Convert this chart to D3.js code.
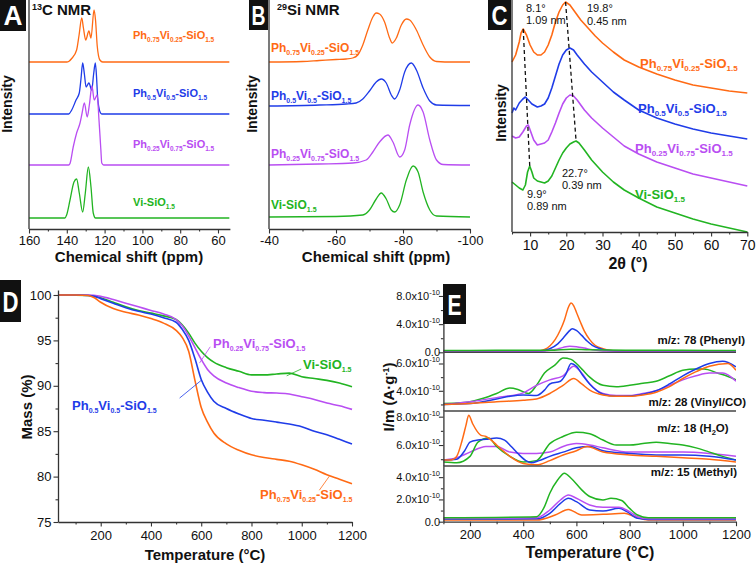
<!DOCTYPE html>
<html><head><meta charset="utf-8">
<script src="https://cdn.jsdelivr.net/npm/d3@7"></script>
<style>
body{margin:0;background:#fff;}
svg{display:block;font-family:"Liberation Sans",Arial,sans-serif;}
</style></head><body>
<svg id="chart" width="756" height="565"></svg>
<script>
// ---------------- DATA ----------------
const sampleNames = [
  ["Ph","0.75","Vi","0.25","-SiO","1.5"],
  ["Ph","0.5","Vi","0.5","-SiO","1.5"],
  ["Ph","0.25","Vi","0.75","-SiO","1.5"],
  ["Vi-SiO","1.5"]
];
// Panel A: 13C NMR  [ppm, intensity a.u. incl. stack offset]
const cnmrPh75 = [[160,167],[140,167],[139,167.5],[137.4,170.5],[134.8,179],[133.5,194],[132.1,211],[131.2,201],[130,189],[128.3,198],[127.2,191],[125.6,219],[124.8,209],[123.9,183],[122.5,169],[121,167],[54,167]];
const cnmrPh50 = [[160,115],[139,115],[137.4,119],[135.1,129],[133.4,136],[132.5,150],[131.6,166],[130.7,155],[129.8,142],[128.3,146],[126.8,139],[125.8,155],[124.9,166],[124.2,150],[123.7,132],[122.4,117],[121.5,115],[54,115]];
const cnmrPh25 = [[160,64],[139,64],[138.3,65.5],[136.6,82],[134.8,96],[133.0,106],[132,115],[130.7,126],[129.2,112],[128,125],[126.7,143],[125.5,129],[123.9,134],[123,110],[122,80],[121.5,66],[120.5,64],[54,64]];
const cnmrVi = [[160,11],[141,11],[140.1,14],[138.3,29],[136.2,47],[134.8,50],[133.4,36],[131.6,17],[130.2,36],[128.6,62],[127.2,42],[126.0,16],[124.8,11],[54,11]];
const ppmTicksA = [160,140,120,100,80,60];
const ppmMinorA = [150,130,110,90,70];
// Panel B: 29Si NMR
const sinmrPh75 = [[-40,167],[-50,167.5],[-55,168.5],[-60,169.5],[-63,170],[-65,171],[-66.5,174],[-68,184],[-69.5,199],[-71,212],[-72,216],[-73,215],[-74.5,207],[-76,191],[-76.8,186],[-78,191],[-79.5,204],[-81,210],[-82,209],[-84,199],[-86,184],[-88,172],[-90,167.5],[-95,167],[-100,167]];
const sinmrPh50 = [[-40,123],[-55,124],[-63,125],[-66,126],[-68,130],[-70,138],[-72,147],[-73.5,150],[-75,146],[-76.5,134],[-77.5,130],[-79,139],[-80.5,157],[-82.5,166],[-84,159],[-86,141],[-88,128],[-90,124],[-100,123.5]];
const sinmrPh25 = [[-40,64],[-55,65],[-65,66],[-69,69],[-71,77],[-73,87],[-75.5,94],[-77,87],[-79,72],[-80.5,79],[-82,104],[-84.5,124],[-86,117],[-88,89],[-90,69],[-92,64.5],[-100,64]];
const sinmrVi = [[-40,12],[-60,12.5],[-68,14],[-70,19],[-72,30],[-73.5,36],[-75,30],[-76.5,19],[-77.5,17],[-79,24],[-81,49],[-83,63],[-84.5,57],[-86,37],[-88,19],[-90,13],[-100,12]];
const ppmTicksB = [-40,-60,-80,-100];
const ppmMinorB = [-50,-70,-90];
// Panel C: XRD [2theta, intensity a.u.]
const xrdPh75 = [[5,170],[6,177],[7,190],[7.5,199],[8.1,203],[9,197],[10,187],[11,180],[12,177],[13,177],[14,180],[15,187],[16,197],[17,210],[18,220],[19,227],[19.8,230],[21,227],[22,222],[24,212],[26,204],[28,196],[30,189],[33,180],[36,172],[40,165],[45,158],[50,152],[55,147],[60,144],[65,141],[70,139]];
const xrdPh50 = [[5,119],[5.5,124],[6,122],[7,129],[8,133],[8.7,135],[9.5,132],[10.5,128],[12,125],[13,126],[14,128],[15,134],[16,144],[17,156],[18,168],[19,177],[20,182],[21,184],[22,182],[23,177],[25,168],[27,160],[30,150],[33,140],[36,132],[40,122],[45,114],[50,108],[55,103],[60,99],[65,96],[70,93]];
const xrdPh25 = [[5,96],[6,94],[7,95],[8,100],[9,106],[9.5,107],[10,102],[11,92],[12,87],[13,88],[14,89],[15,92],[16,100],[17,109],[18,119],[19,128],[20,134],[21,137],[22,136],[23,132],[25,122],[27,114],[30,104],[33,95],[36,86],[40,78],[45,70],[50,64],[55,58],[60,54],[65,50],[70,46]];
const xrdVi = [[5,50],[6,47],[7,44],[8,42],[8.7,47],[9.3,60],[9.9,66],[10.5,60],[11,54],[12,51],[13,50],[14,49],[15,51],[16,56],[17,64],[18,72],[19,79],[20,84],[21,88],[22,90],[22.7,91],[23.5,89],[25,82],[27,72],[30,60],[33,50],[36,42],[40,34],[45,25],[50,19],[55,13],[60,8],[65,4],[70,0]];
const xrdGuide1 = [[8.1,203],[9.9,66]];
const xrdGuide2 = [[19.8,230],[22.7,91]];
const xrdNotes = [["8.1°","1.09 nm"],["19.8°","0.45 nm"],["22.7°","0.39 nm"],["9.9°","0.89 nm"]];
const twoThetaTicks = [10,20,30,40,50,60,70];
const twoThetaMinor = [5,15,25,35,45,55,65];
// Panel D: TGA [T °C, mass %]
const tgaPh75 = [[30,100],[100,100],[150,99.95],[175,99.7],[200,99.2],[250,98.5],[300,98.1],[350,97.8],[400,97.4],[450,96.9],[500,96.1],[525,95.3],[550,93.8],[575,90.6],[600,87.6],[625,86.0],[650,84.8],[700,83.6],[750,82.9],[800,82.4],[850,82.1],[900,81.9],[950,81.7],[1000,81.3],[1050,80.8],[1100,80.2],[1150,79.7],[1200,79.2]];
const tgaPh50 = [[30,100],[100,100],[150,99.95],[175,99.85],[200,99.6],[250,99.1],[300,98.6],[350,98.2],[400,97.9],[450,97.5],[500,97.0],[525,96.2],[550,95.0],[575,93.0],[600,90.7],[625,89.3],[650,88.3],[700,87.5],[750,86.9],[800,86.4],[850,86.2],[900,86.0],[950,85.8],[1000,85.5],[1050,85.0],[1100,84.6],[1150,84.1],[1200,83.6]];
const tgaPh25 = [[30,100],[150,100],[200,99.85],[250,99.5],[300,99.1],[350,98.7],[400,98.3],[450,97.9],[500,97.3],[525,96.6],[550,95.5],[575,94.2],[600,92.9],[625,91.8],[650,91.1],[700,90.3],[750,89.8],[800,89.4],[850,89.25],[900,89.2],[950,89.1],[1000,88.8],[1050,88.5],[1100,88.1],[1150,87.8],[1200,87.4]];
const tgaVi = [[30,100],[150,99.95],[200,99.7],[250,99.2],[300,98.7],[350,98.3],[400,98.0],[450,97.7],[500,97.3],[525,96.7],[550,95.8],[575,94.7],[600,93.8],[625,93.1],[650,92.6],[700,92.0],[750,91.6],[800,91.2],[850,91.2],[900,91.3],[950,91.4],[1000,91.0],[1050,90.8],[1100,90.6],[1150,90.3],[1200,89.9]];
const tgaLeaders = [[[1070,78.5],[1110,80.05]],[[514,88.65],[600,90.6]],[[636,94.3],[593,92.5]],[[998,91.85],[940,91.1]]];
const tempTicks = [200,400,600,800,1000,1200];
const tempMinor = [100,300,500,700,900,1100];
const massTicks = [75,80,85,90,95,100];
const massMinor = [77.5,82.5,87.5,92.5,97.5];
// Panel E: MS signals [T °C, I/m in 1e-10 A/g]
const msPhenyl = {
  orange:[[100,0.15],[450,0.15],[480,0.4],[500,0.9],[520,1.8],[540,3.2],[555,4.6],[570,6.4],[580,7.0],[590,6.6],[600,5.7],[615,4.3],[630,3.0],[650,1.8],[670,1.0],[700,0.5],[730,0.25],[760,0.15],[1200,0.15]],
  blue:[[100,0.2],[470,0.2],[500,0.5],[530,1.2],[550,2.0],[570,2.9],[585,3.35],[600,3.1],[620,2.4],[640,1.6],[660,1.0],[690,0.5],[720,0.25],[750,0.2],[1200,0.2]],
  purple:[[100,0.2],[480,0.2],[520,0.4],[550,0.7],[575,0.85],[600,0.8],[630,0.6],[660,0.35],[700,0.2],[1200,0.2]],
  green:[[100,0.25],[300,0.28],[500,0.3],[580,0.45],[650,0.35],[800,0.3],[1000,0.28],[1200,0.25]]
};
const msVinyl = {
  green:[[100,3.07],[150,3.1],[200,3.2],[250,3.45],[300,3.8],[350,4.2],[380,4.1],[420,3.8],[450,4.4],[480,5.3],[520,5.9],[550,6.4],[580,6.3],[600,6.0],[625,5.5],[650,5.0],[700,4.4],[750,4.3],[800,4.4],[850,4.55],[900,4.7],[950,5.1],[1000,5.5],[1050,5.6],[1080,5.6],[1130,5.3],[1170,5.05],[1200,4.8]],
  purple:[[100,3.0],[200,3.2],[300,3.5],[400,3.85],[450,4.4],[500,4.8],[550,5.1],[590,5.8],[620,5.3],[650,4.5],[700,3.8],[750,3.65],[800,3.65],[850,3.8],[900,4.0],[950,4.4],[1000,4.8],[1050,5.1],[1100,5.3],[1150,5.3],[1200,4.7]],
  blue:[[100,3.0],[200,3.07],[300,3.4],[350,3.6],[400,3.7],[450,3.65],[480,4.05],[500,4.5],[540,4.7],[560,5.2],[580,6.0],[600,5.8],[625,5.1],[650,4.5],[700,3.75],[750,3.6],[800,3.62],[850,3.75],[900,4.0],[950,4.5],[1000,5.1],[1050,5.6],[1100,6.0],[1150,6.17],[1200,5.76]],
  orange:[[100,3.0],[200,3.07],[300,3.2],[400,3.3],[450,3.4],[500,3.8],[550,4.4],[590,4.9],[620,4.5],[650,4.05],[700,3.7],[750,3.6],[800,3.6],[850,3.7],[900,3.9],[950,4.3],[1000,4.9],[1050,5.4],[1100,5.8],[1170,6.0],[1200,5.5]]
};
const msWater = {
  purple:[[100,4.94],[150,5.1],[200,5.5],[260,5.9],[300,5.9],[350,5.5],[400,5.4],[450,5.4],[500,5.5],[550,5.9],[600,6.1],[650,6.0],[700,5.8],[800,5.5],[900,5.5],[1000,5.5],[1100,5.4],[1200,5.2]],
  green:[[100,4.8],[150,4.75],[200,5.2],[230,6.2],[270,6.5],[300,5.9],[350,5.2],[400,4.8],[450,4.9],[500,6.1],[550,6.6],[600,6.9],[650,6.8],[700,6.35],[750,6.0],[800,6.0],[850,6.1],[900,6.2],[950,6.1],[1000,6.0],[1050,5.8],[1100,5.5],[1150,5.2],[1200,4.94]],
  blue:[[100,4.94],[150,5.0],[180,5.6],[200,6.2],[230,6.35],[260,6.4],[300,6.5],[330,6.35],[355,5.9],[380,5.4],[410,4.9],[430,4.75],[460,4.9],[500,5.2],[550,5.5],[600,5.8],[650,5.9],[700,5.6],[800,5.4],[900,5.3],[1000,5.3],[1100,5.2],[1200,4.94]],
  orange:[[100,4.94],[130,4.95],[150,5.2],[170,6.3],[185,7.4],[195,8.1],[210,7.5],[240,6.7],[260,6.6],[280,6.35],[300,6.0],[330,5.5],[350,5.2],[400,4.7],[450,4.6],[500,4.9],[550,5.3],[600,5.6],[640,5.9],[700,5.5],[800,5.3],[900,5.2],[1000,5.1],[1100,5.0],[1200,4.8]]
};
const msMethyl = {
  orange:[[100,0.15],[450,0.15],[520,0.6],[570,1.1],[620,0.6],[700,0.66],[780,0.75],[820,0.45],[870,0.15],[1200,0.15]],
  blue:[[100,0.24],[450,0.26],[500,0.75],[540,1.65],[570,2.1],[600,1.8],[650,1.05],[700,0.96],[760,1.2],[790,0.9],[830,0.3],[870,0.2],[1200,0.2]],
  purple:[[100,0.3],[450,0.35],[500,1.05],[540,1.95],[570,2.4],[600,2.1],[650,1.5],[700,1.3],[760,1.3],[800,0.9],[830,0.45],[870,0.27],[1200,0.27]],
  green:[[100,0.36],[450,0.45],[480,1.35],[500,2.55],[530,3.76],[555,4.36],[580,3.9],[620,2.86],[650,2.26],[700,1.95],[730,2.1],[770,1.9],[800,1.2],[830,0.6],[870,0.36],[1200,0.36]]
};
const msLabels = ["m/z: 78 (Phenyl)","m/z: 28 (Vinyl/CO)","m/z: 18 (H","m/z: 15 (Methyl)"];
const msTicks = {ph:[[0,4,8],[2,6]], vi:[[4,6],[3,5]], h2o:[[6,8],[5,7]], me:[[0,2,4],[1,3]]};

// ---------------- DRAW ----------------
const COL = {orange:"#ff6a14", blue:"#1f3ce8", purple:"#b94ef2", green:"#22b422"};
const serCols = [COL.orange, COL.blue, COL.purple, COL.green];
const AX = "#333";
const svg = d3.select("#chart");
svg.append("rect").attr("width",756).attr("height",565).attr("fill","#fff");

function styleAxis(a, fs){
  a.attr("font-family",null).attr("font-size",null);
  a.select(".domain").attr("stroke",AX).attr("stroke-width",1.3);
  a.selectAll(".tick line").attr("stroke",AX).attr("stroke-width",1.1);
  a.selectAll(".tick text").attr("fill","#111").attr("font-size",fs);
}
function xAxis(scale, y, major, minor, fs, pad){
  const a = svg.append("g").attr("transform",`translate(0,${y})`)
    .call(d3.axisBottom(scale).tickValues(major).tickSize(4.5).tickPadding(pad).tickSizeOuter(0).tickFormat(d=>String(d)));
  styleAxis(a, fs);
  const m = svg.append("g").attr("transform",`translate(0,${y})`)
    .call(d3.axisBottom(scale).tickValues(minor).tickSize(2.5).tickFormat(""));
  m.select(".domain").remove();
  m.selectAll(".tick line").attr("stroke",AX).attr("stroke-width",1.1);
}
function vSpine(x, y0, y1){
  svg.append("line").attr("x1",x).attr("x2",x).attr("y1",y0).attr("y2",y1).attr("stroke",AX).attr("stroke-width",1.3);
}
function drawLine(data, xs, ys, color, w, curve, clip){
  const p = svg.append("path").datum(data).attr("fill","none").attr("stroke",color).attr("stroke-width",w)
    .attr("stroke-linejoin","round")
    .attr("d", d3.line().x(d=>xs(d[0])).y(d=>ys(d[1])).curve(curve||d3.curveMonotoneX));
  if(clip) p.attr("clip-path",`url(#${clip})`);
  return p;
}
function subLabel(x, y, parts, fs, ss, shift, color){
  const t = svg.append("text").attr("x",x).attr("y",y).attr("fill",color).attr("font-weight","bold").attr("font-size",fs);
  parts.forEach((p,i)=>{
    const sub = i%2===1;
    t.append("tspan").attr("font-size", sub?ss:fs).attr("dy", sub? shift : (i>0? -shift:0)).text(p);
  });
  return t;
}
function box(x,y,w,h,letter,fs,tl){
  svg.append("rect").attr("x",x).attr("y",y).attr("width",w).attr("height",h).attr("fill","#111");
  svg.append("text").attr("x",x+w/2).attr("y",y+h/2).attr("dy","0.36em").attr("text-anchor","middle")
    .attr("fill","#fff").attr("font-weight","bold").attr("font-size",fs)
    .attr("textLength",tl).attr("lengthAdjust","spacingAndGlyphs").text(letter);
}
function vTitle(x, y, txt, fs){
  return svg.append("text").attr("transform",`translate(${x},${y}) rotate(-90)`).attr("text-anchor","middle")
    .attr("font-weight","bold").attr("font-size",fs).attr("fill","#111").text(txt);
}
function hTitle(x, y, txt, fs){
  return svg.append("text").attr("x",x).attr("y",y).attr("text-anchor","middle")
    .attr("font-weight","bold").attr("font-size",fs).attr("fill","#111").text(txt);
}

// ---- Panel A ----
const xA = d3.scaleLinear().domain([160,53.7]).range([29,229.9]);
const yA = d3.scaleLinear().domain([0,229]).range([229,0]);
[cnmrPh75,cnmrPh50,cnmrPh25,cnmrVi].forEach((s,i)=>drawLine(s,xA,yA,serCols[i],1.3));
vSpine(29,0,229);
xAxis(xA,229,ppmTicksA,ppmMinorA,13,2.5);
box(0,0,26,31,"A",27,19);
{ const t = svg.append("text").attr("x",32).attr("y",15).attr("font-weight","bold").attr("font-size",15).attr("fill","#111");
  t.append("tspan").attr("font-size",9).attr("dy",-5).text("13");
  t.append("tspan").attr("dy",5).text("C NMR"); }
vTitle(12,104,"Intensity",14);
hTitle(129,262,"Chemical shift (ppm)",15);
[[133,39],[133,97],[133,148],[133,206]].forEach((p,i)=>subLabel(p[0],p[1],sampleNames[i],11,6.5,2.5,serCols[i]));

// ---- Panel B ----
const xB = d3.scaleLinear().domain([-40,-100]).range([269,470]);
const yB = d3.scaleLinear().domain([0,229]).range([229,0]);
[sinmrPh75,sinmrPh50,sinmrPh25,sinmrVi].forEach((s,i)=>drawLine(s,xB,yB,serCols[i],1.3));
vSpine(269,0,229);
xAxis(xB,229,ppmTicksB,ppmMinorB,13,2.5);
box(249,0,19,30,"B",27,14);
{ const t = svg.append("text").attr("x",277).attr("y",14.5).attr("font-weight","bold").attr("font-size",15).attr("fill","#111");
  t.append("tspan").attr("font-size",9).attr("dy",-5).text("29");
  t.append("tspan").attr("dy",5).text("Si NMR"); }
vTitle(257,104,"Intensity",14);
hTitle(376,262,"Chemical shift (ppm)",15);
[[271,52],[271,100],[271,158],[271,209]].forEach((p,i)=>subLabel(p[0],p[1],sampleNames[i],12,7,2.8,serCols[i]));

// ---- Panel C ----
const xC = d3.scaleLinear().domain([5,70]).range([512,747.3]);
const yC = d3.scaleLinear().domain([0,232]).range([232,0]);
[xrdPh75,xrdPh50,xrdPh25,xrdVi].forEach((s,i)=>drawLine(s,xC,yC,serCols[i],1.6,d3.curveLinear));
[xrdGuide1,xrdGuide2].forEach(g=>drawLine(g,xC,yC,"#111",1.3,d3.curveLinear).attr("stroke-dasharray","4,3"));
vSpine(512,0,232);
xAxis(xC,232,twoThetaTicks,twoThetaMinor,14,3.5);
box(488,0,23,30,"C",27,16);
vTitle(506,113,"Intensity",14);
hTitle(628,269,"2θ (°)",16);
[[640,68],[638,113],[635,153],[635,199]].forEach((p,i)=>subLabel(p[0],p[1],sampleNames[i],13,8,3,serCols[i]));
[[526,12,24],[587,12,24.5],[562,177,189],[527,198,210]].forEach((p,i)=>{
  svg.append("text").attr("x",p[0]).attr("y",p[1]).attr("font-size",11).attr("fill","#111").text(xrdNotes[i][0]);
  svg.append("text").attr("x",p[0]).attr("y",p[2]).attr("font-size",11).attr("fill","#111").text(xrdNotes[i][1]);
});

// ---- Panel D ----
const xD = d3.scaleLinear().domain([30,1200]).range([58,352]);
const yD = d3.scaleLinear().domain([75,100.55]).range([522,290]);
[tgaVi,tgaPh25,tgaPh50,tgaPh75].forEach((s,i)=>drawLine(s,xD,yD,serCols[3-i],1.6));
tgaLeaders.forEach((l,i)=>drawLine(l,xD,yD,serCols[i],0.8,d3.curveLinear));
xAxis(xD,522,tempTicks,tempMinor,13,4);
{ const a = svg.append("g").attr("transform","translate(58,0)")
    .call(d3.axisLeft(yD).tickValues(massTicks).tickSize(4.5).tickPadding(2).tickSizeOuter(0).tickFormat(d=>String(d)));
  styleAxis(a,13);
  const m = svg.append("g").attr("transform","translate(58,0)").call(d3.axisLeft(yD).tickValues(massMinor).tickSize(2.5).tickFormat(""));
  m.select(".domain").remove(); m.selectAll(".tick line").attr("stroke",AX).attr("stroke-width",1.1); }
box(0,280,21,42,"D",30,16);
vTitle(32,407,"Mass (%)",15);
hTitle(205,560,"Temperature (°C)",15);
[[260,499],[72,409.5],[213,347.5],[303,369]].forEach((p,i)=>subLabel(p[0],p[1],sampleNames[i],13,7,3,serCols[i]));

// ---- Panel E ----
const xE = d3.scaleLinear().domain([100,1200]).range([443.4,736]);
const eSub = [
  {key:"ph", data:msPhenyl, y:d3.scaleLinear().domain([0,9.7]).range([352.3,284])},
  {key:"vi", data:msVinyl, y:d3.scaleLinear().domain([2.52,6.82]).range([411,352.3])},
  {key:"h2o", data:msWater, y:d3.scaleLinear().domain([4.52,8.4]).range([466,411])},
  {key:"me", data:msMethyl, y:d3.scaleLinear().domain([0,5.0]).range([521.7,466])}
];
const defs = svg.append("defs");
eSub.forEach((s,k)=>{
  const r = s.y.range();
  defs.append("clipPath").attr("id","clipE"+k).append("rect")
    .attr("x",443.4).attr("y",r[1]).attr("width",736-443.4).attr("height",r[0]-r[1]);
  Object.keys(s.data).forEach(c=>drawLine(s.data[c],xE,s.y,COL[c],1.5,d3.curveMonotoneX,"clipE"+k));
  const [maj,min] = msTicks[s.key];
  const a = svg.append("g").attr("transform","translate(443.4,0)")
    .call(d3.axisLeft(s.y).tickValues(maj).tickSize(4.5).tickFormat("").tickSizeOuter(0));
  styleAxis(a,12);
  const m = svg.append("g").attr("transform","translate(443.4,0)").call(d3.axisLeft(s.y).tickValues(min).tickSize(2.5).tickFormat(""));
  m.select(".domain").remove(); m.selectAll(".tick line").attr("stroke",AX).attr("stroke-width",1.1);
  maj.forEach(v=>{
    const t = svg.append("text").attr("x",440).attr("y",s.y(v)+4).attr("text-anchor","end").attr("font-size",11).attr("fill","#111");
    if(v===0){ t.text("0.0"); }
    else { t.append("tspan").text(v.toFixed(1)+"x10"); t.append("tspan").attr("font-size",7.5).attr("dy",-5).text("-10"); }
  });
});
[352.3,411,466].forEach(y=>svg.append("line").attr("x1",443.4).attr("x2",736).attr("y1",y).attr("y2",y).attr("stroke","#444").attr("stroke-width",1.3));
xAxis(xE,521.7,tempTicks,tempMinor,13,4);
box(443,284,23,40,"E",30,14);
{ const t = svg.append("text").attr("transform","translate(394,397) rotate(-90)").attr("text-anchor","middle")
    .attr("font-weight","bold").attr("font-size",15).attr("fill","#111");
  t.append("tspan").text("I/m (A·g");
  t.append("tspan").attr("font-size",9).attr("dy",-5).text("-1");
  t.append("tspan").attr("dy",5).text(")"); }
hTitle(590,558,"Temperature (°C)",16);
svg.append("text").attr("x",745).attr("y",344).attr("text-anchor","end").attr("font-weight","bold").attr("font-size",11.5).attr("fill","#111").text(msLabels[0]);
svg.append("text").attr("x",746).attr("y",406).attr("text-anchor","end").attr("font-weight","bold").attr("font-size",11.5).attr("fill","#111").text(msLabels[1]);
{ const t = svg.append("text").attr("x",693).attr("y",432).attr("text-anchor","middle").attr("font-weight","bold").attr("font-size",11.5).attr("fill","#111");
  t.append("tspan").text(msLabels[2]);
  t.append("tspan").attr("font-size",7.5).attr("dy",3).text("2");
  t.append("tspan").attr("dy",-3).text("O)"); }
svg.append("text").attr("x",737).attr("y",476).attr("text-anchor","end").attr("font-weight","bold").attr("font-size",11.5).attr("fill","#111").text(msLabels[3]);
</script></body></html>
